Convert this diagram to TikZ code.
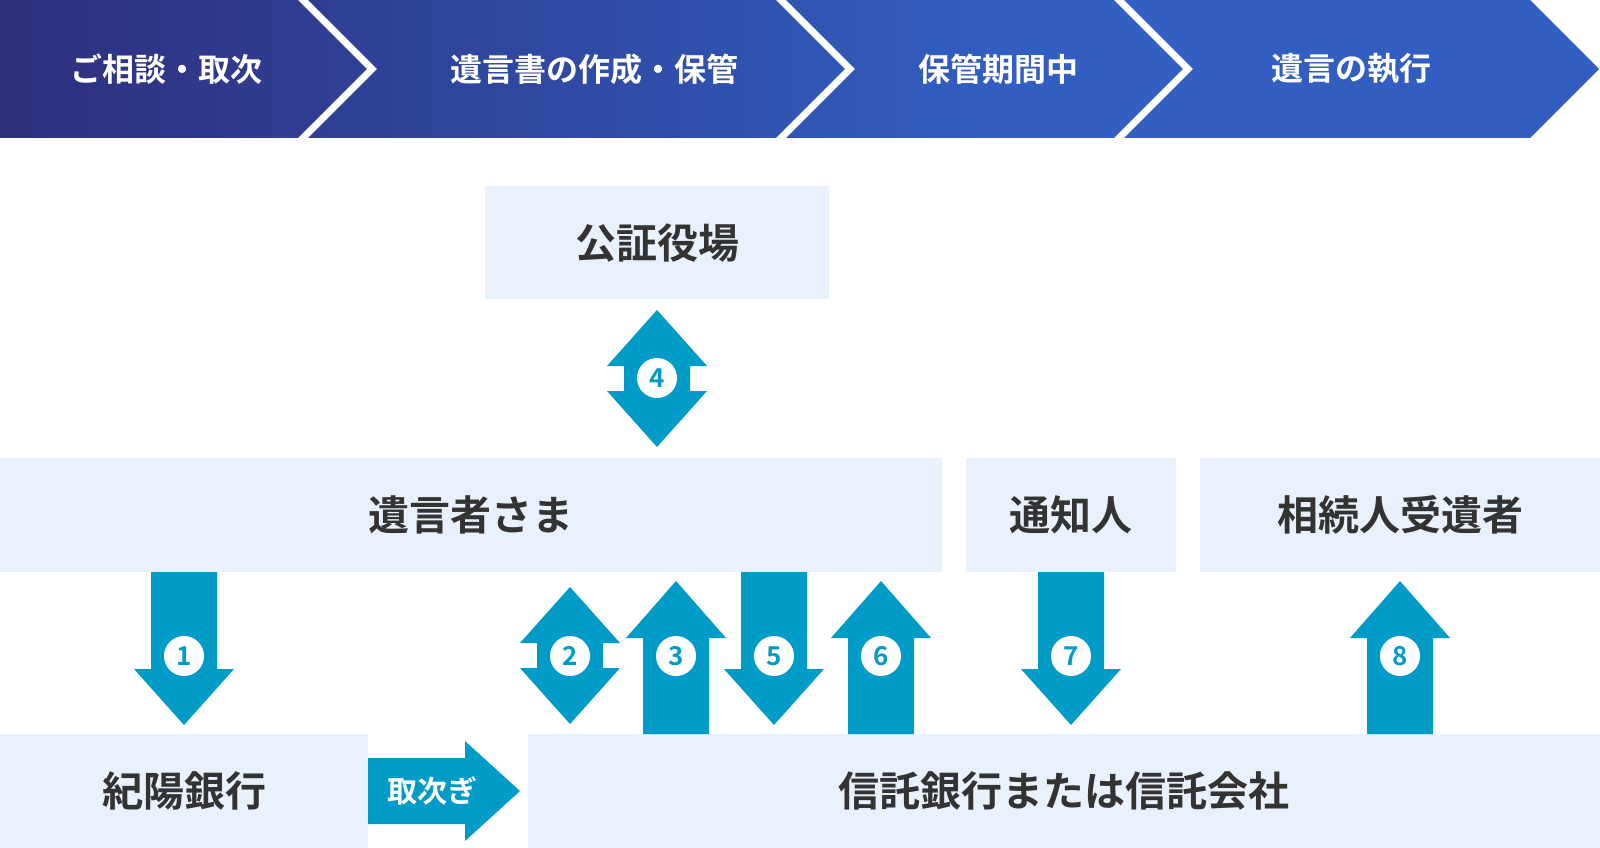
\documentclass[tikz,border=0pt]{standalone}
\usepackage{fontspec}
\setmainfont{Noto Sans CJK JP}[BoldFont={Noto Sans CJK JP Bold}]
\usetikzlibrary{calc}
\definecolor{boxc}{HTML}{E9F1FD}
\definecolor{txtc}{HTML}{333333}
\definecolor{arrc}{HTML}{009BC7}
\definecolor{navyL}{HTML}{2E2F7C}
\definecolor{navyR}{HTML}{315EC0}
\pgfdeclarehorizontalshading{hdrshade}{100bp}{color(0bp)=(navyL); color(25bp)=(navyL); color(56bp)=(navyR); color(100bp)=(navyR)}
% block arrows: tail, tip
\newcommand\blockdown[2]{\fill[arrowfill] let \p1=(#1), \p2=(#2) in
  (\x1-33pt,\y1) -- (\x1-33pt,\y2+56pt) -- (\x1-50pt,\y2+56pt) -- (\x2,\y2) --
  (\x1+50pt,\y2+56pt) -- (\x1+33pt,\y2+56pt) -- (\x1+33pt,\y1) -- cycle;}
\newcommand\blockup[2]{\fill[arrowfill] let \p1=(#1), \p2=(#2) in
  (\x1-33pt,\y1) -- (\x1-33pt,\y2-57pt) -- (\x1-50pt,\y2-57pt) -- (\x2,\y2) --
  (\x1+50pt,\y2-57pt) -- (\x1+33pt,\y2-57pt) -- (\x1+33pt,\y1) -- cycle;}
\newcommand\blockboth[2]{\fill[arrowfill] let \p1=(#1), \p2=(#2) in
  (\x1,\y1) -- (\x1+50pt,\y1-56pt) -- (\x1+33pt,\y1-56pt) -- (\x1+33pt,\y2+56pt) --
  (\x1+50pt,\y2+56pt) -- (\x2,\y2) -- (\x1-50pt,\y2+56pt) -- (\x1-33pt,\y2+56pt) --
  (\x1-33pt,\y1-56pt) -- (\x1-50pt,\y1-56pt) -- cycle;}
\newcommand\blockright[2]{\fill[arrowfill] let \p1=(#1), \p2=(#2) in
  (\x1,\y1+33pt) -- (\x2-55pt,\y1+33pt) -- (\x2-55pt,\y1+50pt) -- (\x2,\y2) --
  (\x2-55pt,\y1-50pt) -- (\x2-55pt,\y1-33pt) -- (\x1,\y1-33pt) -- cycle;}
\begin{document}
\begin{tikzpicture}[x=1pt,y=-1pt,
  box/.style={fill=boxc, text=txtc, font=\fontsize{41}{49}\selectfont\bfseries,
    inner sep=0pt, anchor=north west},
  hdrtext/.style={text=white, font=\fontsize{32}{38}\selectfont\bfseries},
  num/.style={circle, fill=white, minimum size=40pt, inner sep=0pt, text=arrc,
    font=\fontsize{26}{30}\selectfont\bfseries},
  arrowfill/.style={fill=arrc},
  sep/.style={white, line width=7pt}]
\useasboundingbox (0,0) rectangle (1600,848);

% header chevrons
\shade[shading=hdrshade] (0,0) -- (1530,0) -- (1599,69) -- (1530,138) -- (0,138) -- cycle;
\draw[sep] (298,-5) -- (372,69) -- (298,143);
\draw[sep] (776,-5) -- (850,69) -- (776,143);
\draw[sep] (1114,-5) -- (1188,69) -- (1114,143);
\node[hdrtext] (h1) at (166,69) {ご相談・取次};
\node[hdrtext] (h2) at (594,69) {遺言書の作成・保管};
\node[hdrtext] (h3) at (998,69) {保管期間中};
\node[hdrtext] (h4) at (1351,69) {遺言の執行};

% boxes
\node[box, minimum width=344pt, minimum height=113pt] (office) at (485,186) {公証役場};
\node[box, minimum width=942pt, minimum height=114pt] (testator) at (0,458) {遺言者さま};
\node[box, minimum width=210pt, minimum height=114pt] (notifier) at (966,458) {通知人};
\node[box, minimum width=400pt, minimum height=114pt] (heirs) at (1200,458) {相続人受遺者};
\node[box, minimum width=368pt, minimum height=114pt] (bank) at (0,734) {紀陽銀行};
\node[box, minimum width=1072pt, minimum height=114pt] (trust) at (528,734) {信託銀行または信託会社};

% arrow end points
\coordinate (a1s) at (184,572);  \coordinate (a1e) at (184,725);
\coordinate (a2s) at (570,587);  \coordinate (a2e) at (570,724);
\coordinate (a3s) at (676,734);  \coordinate (a3e) at (676,581);
\coordinate (a4s) at (657,310);  \coordinate (a4e) at (657,447);
\coordinate (a5s) at (774,572);  \coordinate (a5e) at (774,725);
\coordinate (a6s) at (881,734);  \coordinate (a6e) at (881,581);
\coordinate (a7s) at (1071,572); \coordinate (a7e) at (1071,725);
\coordinate (a8s) at (1400,734); \coordinate (a8e) at (1400,581);
\coordinate (tks) at (368,791);  \coordinate (tke) at (520,791);

\blockdown{a1s}{a1e}
\blockboth{a2s}{a2e}
\blockup{a3s}{a3e}
\blockboth{a4s}{a4e}
\blockdown{a5s}{a5e}
\blockup{a6s}{a6e}
\blockdown{a7s}{a7e}
\blockup{a8s}{a8e}
\blockright{tks}{tke}

\node[num] (n1) at (184,656) {1};
\node[num] (n2) at (570,656) {2};
\node[num] (n3) at (676,656) {3};
\node[num] (n4) at (657,378) {4};
\node[num] (n5) at (774,656) {5};
\node[num] (n6) at (881,656) {6};
\node[num] (n7) at (1071,656) {7};
\node[num] (n8) at (1400,656) {8};
\node[text=white, font=\fontsize{30}{36}\selectfont\bfseries] (tk) at (432,791) {取次ぎ};
\end{tikzpicture}
\end{document}
